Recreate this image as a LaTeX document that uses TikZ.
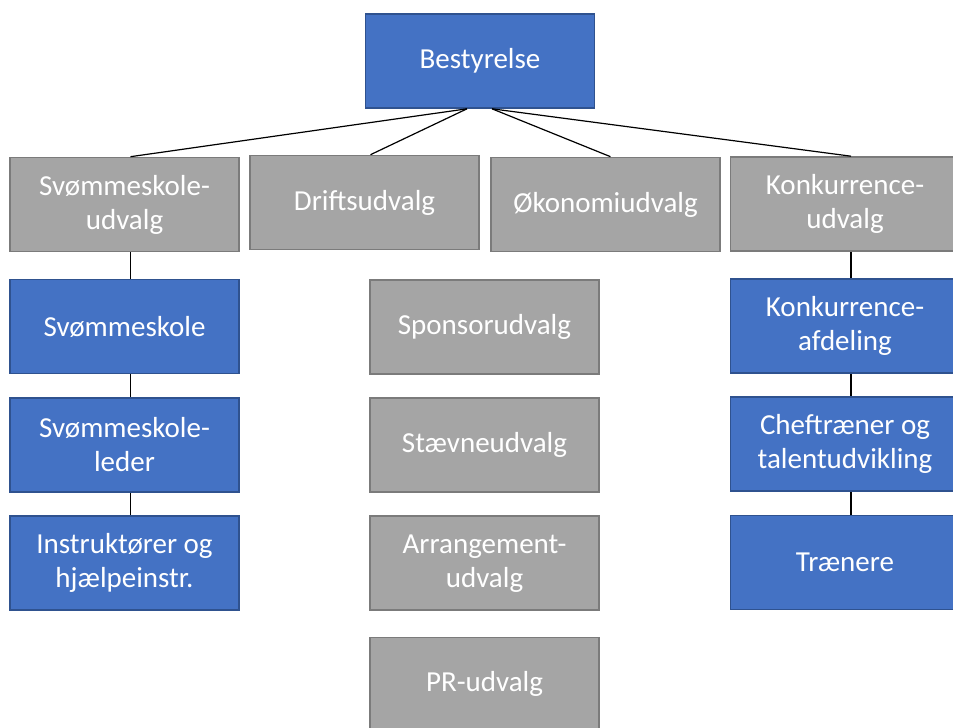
\documentclass[tikz,border=0pt]{standalone}
\usepackage{fontspec}
\setmainfont{Carlito}
\usepackage{xcolor}
\usetikzlibrary{positioning}

\definecolor{unitblue}{HTML}{4472C4}
\definecolor{unitblueline}{HTML}{2F528F}
\definecolor{unitgray}{HTML}{A5A5A5}
\definecolor{unitgrayline}{HTML}{7B7B7B}

\begin{document}
\begin{tikzpicture}[
    x=1pt, y=-1pt,
    node distance=22.5pt,
    unit/.style={rectangle, draw, line width=1.6pt, text=white, align=center,
                 minimum width=229pt, minimum height=94pt, inner sep=2pt,
                 font=\fontsize{29}{34}\selectfont},
    board/.style={unit, fill=unitblue, draw=unitblueline},
    dept/.style={unit, fill=unitblue, draw=unitblueline},
    cttee/.style={unit, fill=unitgray, draw=unitgrayline},
    link/.style={draw=black, line width=1.2pt}
]
\useasboundingbox (0,0) rectangle (953,728);
\clip (0,0) rectangle (953,728);

% ---- Top: board ----
\node[board] (board) at (480,61) {Bestyrelse};

% ---- Committees row ----
\node[cttee] (swimcom) at (124.5,204.5) {Svømmeskole-\\udvalg};
\node[cttee] (opscom)  at (364.5,202.5) {Driftsudvalg};
\node[cttee] (fincom)  at (605.5,204.5) {Økonomiudvalg};
\node[cttee] (compcom) at (845,204)     {Konkurrence-\\udvalg};

% ---- Left column: swim school ----
\node[dept, below=26.5pt of swimcom] (school) {Svømmeskole};
\node[dept, below=of school]         (leader) {Svømmeskole-\\leder};
\node[dept, below=of leader]         (instr)  {Instruktører og\\hjælpeinstr.};

% ---- Middle column: other committees ----
\node[cttee] (sponsor) at (484.5,327) {Sponsorudvalg};
\node[cttee, below=of sponsor]      (meet)  {Stævneudvalg};
\node[cttee, below=of meet]         (event) {Arrangement-\\udvalg};
\node[cttee, below=25.5pt of event] (pr)    {PR-udvalg};

% ---- Right column: competition ----
\node[dept, below=26.5pt of compcom] (compdept) {Konkurrence-\\afdeling};
\node[dept, below=of compdept]       (coach)    {Cheftræner og\\talentudvikling};
\node[dept, below=of coach]          (trainers) {Trænere};

% ======== Board to committees ========
\draw[link] ([xshift=-13pt]board.south) -- ([xshift=6pt]swimcom.north);
\draw[link] ([xshift=-13pt]board.south) -- ([xshift=6pt]opscom.north);
\draw[link] ([xshift=12pt]board.south)  -- ([xshift=5pt]fincom.north);
\draw[link] ([xshift=12pt]board.south)  -- ([xshift=6pt]compcom.north);

% ======== Column chains ========
\draw[link] ([xshift=6pt]swimcom.south) -- ([xshift=6pt]school.north);
\draw[link] ([xshift=6pt]school.south)  -- ([xshift=6pt]leader.north);
\draw[link] ([xshift=6pt]leader.south)  -- ([xshift=6pt]instr.north);
\draw[link] ([xshift=6pt]compcom.south)  -- ([xshift=6pt]compdept.north);
\draw[link] ([xshift=6pt]compdept.south) -- ([xshift=6pt]coach.north);
\draw[link] ([xshift=6pt]coach.south)    -- ([xshift=6pt]trainers.north);

\end{tikzpicture}
\end{document}
